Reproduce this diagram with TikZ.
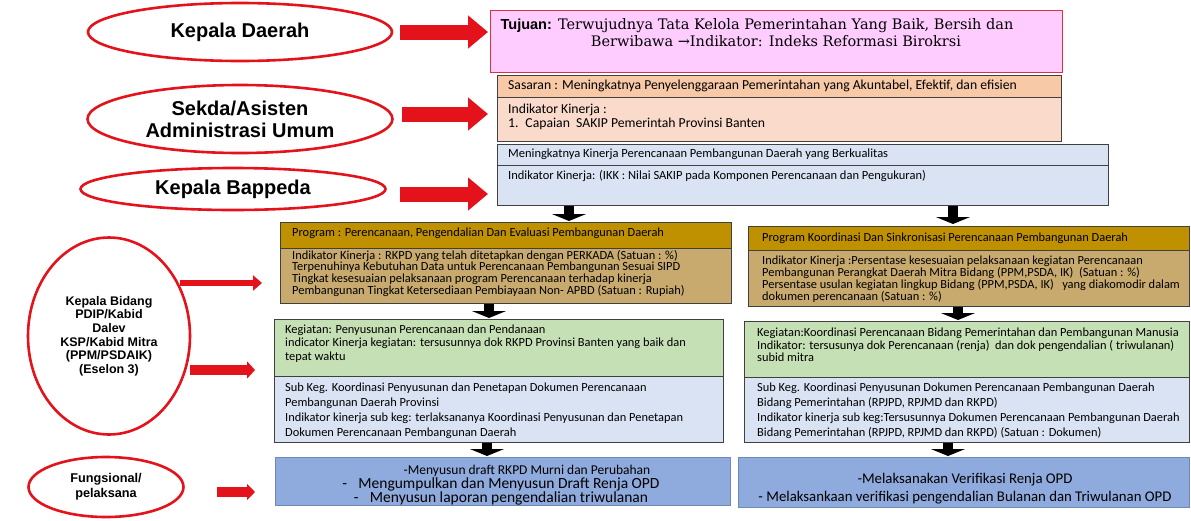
\documentclass[tikz,border=0pt]{standalone}
\usepackage{fontspec}
\setmainfont{Carlito}
\newfontfamily\arialf{Liberation Sans}
\newfontfamily\seriff{DejaVu Serif}
\usetikzlibrary{arrows.meta,shapes.geometric}
\definecolor{ellred}{HTML}{E3121B}
\definecolor{tujfill}{HTML}{FFCCFF}
\definecolor{tujline}{HTML}{E0303A}
\definecolor{sashead}{HTML}{F7C9A6}
\definecolor{saslow}{HTML}{FADACB}
\definecolor{bluelt}{HTML}{DAE3F3}
\definecolor{proghead}{HTML}{BF9000}
\definecolor{proglow}{HTML}{C8AA6E}
\definecolor{keggreen}{HTML}{C5E0B4}
\definecolor{botblue}{HTML}{8FAADC}
\definecolor{botline}{HTML}{7088B8}
\definecolor{boxline}{HTML}{404040}
\begin{document}
\begin{tikzpicture}[x=1pt,y=-1pt,
  pane/.style={draw=boxline, line width=1.3pt, anchor=north west, inner sep=0pt},
  oval/.style={ellipse, draw=ellred, line width=2.6pt, inner sep=0pt, align=center, font=\arialf\bfseries},
  txt/.style={anchor=west, inner sep=0pt, align=left},
  redarr/.style={draw=ellred, line width=15pt, -{Triangle[length=20pt,width=32pt]}},
  blkarr/.style={draw=black, line width=10pt, -{Triangle[length=7pt,width=34pt]}}
]
\useasboundingbox (0,0) rectangle (1191,520);

% ---------- ellipses ----------
\node[oval, minimum width=304pt, minimum height=58pt, font=\arialf\bfseries\fontsize{20}{22}\selectfont] (kd) at (240,32) {Kepala Daerah};
\node[oval, minimum width=305pt, minimum height=68pt, font=\arialf\bfseries\fontsize{20}{22}\selectfont] (sek) at (240,119) {Sekda/Asisten\\Administrasi Umum};
\node[oval, minimum width=305pt, minimum height=42pt, font=\arialf\bfseries\fontsize{20}{22}\selectfont] (kb) at (233,189) {Kepala Bappeda};
\node[oval, minimum width=162pt, minimum height=197pt, font=\arialf\bfseries\fontsize{12.5}{13.6}\selectfont] (kbid) at (109,336) {Kepala Bidang\\PDIP/Kabid\\Dalev\\KSP/Kabid Mitra\\(PPM/PSDAIK)\\(Eselon 3)};
\node[oval, minimum width=155pt, minimum height=60pt, font=\arialf\bfseries\fontsize{12.7}{15}\selectfont] (fung) at (106,487) {Fungsional/\\pelaksana};

% ---------- top boxes ----------
\node[pane, draw=tujline, fill=tujfill, minimum width=572pt, minimum height=62pt] (tuj) at (490,10) {};
\node[inner sep=0pt, align=center, font=\seriff\fontsize{14.5}{17}\selectfont] (tujt) at (776,32.5)
  {{\arialf\bfseries Tujuan:} Terwujudnya Tata Kelola Pemerintahan Yang Baik, Bersih dan\hspace*{38pt}\\Berwibawa →Indikator: Indeks Reformasi Birokrsi};

\node[pane, fill=sashead, minimum width=564pt, minimum height=22pt] (sas) at (497,75) {};
\node[pane, fill=saslow, minimum width=564pt, minimum height=44pt] (sasi) at (497,97) {};
\node[txt, font=\fontsize{13.7}{14}\selectfont] (sast) at (508,86) {Sasaran : Meningkatnya Penyelenggaraan Pemerintahan yang Akuntabel, Efektif, dan efisien};
\node[txt, font=\fontsize{13.7}{14}\selectfont] (sasit) at (508,117) {Indikator Kinerja :\\1.\enspace Capaian\ \ SAKIP Pemerintah Provinsi Banten};

\node[pane, fill=bluelt, minimum width=611pt, minimum height=21pt] (bap) at (497,144) {};
\node[pane, fill=bluelt, minimum width=611pt, minimum height=40pt] (bapi) at (497,165) {};
\node[txt, font=\fontsize{12.5}{14}\selectfont] (bapt) at (508,154) {Meningkatnya Kinerja Perencanaan Pembangunan Daerah yang Berkualitas};
\node[txt, font=\fontsize{12.5}{14}\selectfont] (bapit) at (508,176) {Indikator Kinerja: (IKK : Nilai SAKIP pada Komponen Perencanaan dan Pengukuran)};

% ---------- program boxes ----------
\node[pane, fill=proghead, minimum width=451pt, minimum height=26pt] (pl) at (280,222) {};
\node[pane, fill=proglow, minimum width=451pt, minimum height=55pt] (pli) at (280,248) {};
\node[txt, font=\fontsize{12.4}{14}\selectfont] (plt) at (292,233) {Program : Perencanaan, Pengendalian Dan Evaluasi Pembangunan Daerah};
\node[txt, font=\fontsize{12.4}{10.4}\selectfont] (plit) at (292,273.5) {Indikator Kinerja : RKPD yang telah ditetapkan dengan PERKADA (Satuan : \%)\\Terpenuhinya Kebutuhan Data untuk Perencanaan Pembangunan Sesuai SIPD\\Tingkat kesesuaian pelaksanaan program Perencanaan terhadap kinerja\\Pembangunan Tingkat Ketersediaan Pembiayaan Non- APBD (Satuan : Rupiah)};

\node[pane, fill=proghead, minimum width=441pt, minimum height=24pt] (pr) at (748,226) {};
\node[pane, fill=proglow, minimum width=441pt, minimum height=56pt] (pri) at (748,250) {};
\node[txt, font=\fontsize{12.4}{14}\selectfont] (prt) at (762,238) {Program Koordinasi Dan Sinkronisasi Perencanaan Pembangunan Daerah};
\node[txt, font=\fontsize{12.4}{10.7}\selectfont] (prit) at (762,279) {Indikator Kinerja :Persentase kesesuaian pelaksanaan kegiatan Perencanaan\\Pembangunan Perangkat Daerah Mitra Bidang (PPM,PSDA, IK)\ \ (Satuan : \%)\\Persentase usulan kegiatan lingkup Bidang (PPM,PSDA, IK)\ \ \ yang diakomodir dalam\\dokumen perencanaan (Satuan : \%)};

% ---------- kegiatan boxes ----------
\node[pane, fill=keggreen, minimum width=449pt, minimum height=57pt] (kl) at (274,319) {};
\node[pane, fill=bluelt, minimum width=449pt, minimum height=66pt] (skl) at (274,376) {};
\node[txt, font=\fontsize{12.4}{13.5}\selectfont] (klt) at (285,343.5) {Kegiatan: Penyusunan Perencanaan dan Pendanaan\\indicator Kinerja kegiatan: tersusunnya dok RKPD Provinsi Banten yang baik dan\\tepat waktu};
\node[txt, font=\fontsize{12.4}{15}\selectfont] (sklt) at (285,410.5) {Sub Keg. Koordinasi Penyusunan dan Penetapan Dokumen Perencanaan\\Pembangunan Daerah Provinsi\\Indikator kinerja sub keg: terlaksananya Koordinasi Penyusunan dan Penetapan\\Dokumen Perencanaan Pembangunan Daerah};

\node[pane, fill=keggreen, minimum width=445pt, minimum height=56pt] (kr) at (744,321) {};
\node[pane, fill=bluelt, minimum width=445pt, minimum height=65pt] (skr) at (744,377) {};
\node[txt, font=\fontsize{12.4}{12.3}\selectfont] (krt) at (757,345) {Kegiatan:Koordinasi Perencanaan Bidang Pemerintahan dan Pembangunan Manusia\\Indikator: tersusunya dok Perencanaan (renja)\ \ dan dok pengendalian ( triwulanan)\\subid mitra};
\node[txt, font=\fontsize{12.4}{15}\selectfont] (skrt) at (757,410.5) {Sub Keg. Koordinasi Penyusunan Dokumen Perencanaan Pembangunan Daerah\\Bidang Pemerintahan (RPJPD, RPJMD dan RKPD)\\Indikator kinerja sub keg:Tersusunnya Dokumen Perencanaan Pembangunan Daerah\\Bidang Pemerintahan (RPJPD, RPJMD dan RKPD) (Satuan : Dokumen)};

% ---------- bottom boxes ----------
\node[pane, draw=botline, fill=botblue, minimum width=455pt, minimum height=48pt] (bl) at (275,457) {};
\node[pane, draw=botline, fill=botblue, minimum width=451pt, minimum height=50pt] (br) at (738,457) {};
\node[inner sep=0pt, align=center, font=\fontsize{15.5}{13.4}\selectfont] (blt) at (501,485.5) {\hspace*{52pt}{\fontsize{13.5}{13.4}\selectfont -Menyusun draft RKPD Murni dan Perubahan}\\-\enspace\ Mengumpulkan dan Menyusun Draft Renja OPD\\-\enspace\ Menyusun laporan pengendalian triwulanan};
\node[inner sep=0pt, align=center, font=\fontsize{14.8}{18}\selectfont] (brt) at (965,489) {-Melaksanakan Verifikasi Renja OPD\\- Melaksankaan verifikasi pengendalian Bulanan dan Triwulanan OPD};

% ---------- red arrows ----------
\coordinate (ra1s) at (400,32);  \coordinate (ra1e) at (488,32);
\coordinate (ra2s) at (402,114); \coordinate (ra2e) at (488,114);
\coordinate (ra3s) at (400,194); \coordinate (ra3e) at (488,194);
\draw[redarr] (ra1s) -- (ra1e);
\draw[redarr] (ra2s) -- (ra2e);
\draw[redarr] (ra3s) -- (ra3e);
\coordinate (rb1s) at (180,283); \coordinate (rb1e) at (262,283);
\coordinate (rb2s) at (190,370); \coordinate (rb2e) at (255,370);
\coordinate (rb3s) at (217,492); \coordinate (rb3e) at (255,492);
\draw[draw=ellred, line width=6pt, -{Triangle[length=9pt,width=15pt]}] (rb1s) -- (rb1e);
\draw[draw=ellred, line width=10pt, -{Triangle[length=8pt,width=17pt]}] (rb2s) -- (rb2e);
\draw[draw=ellred, line width=10pt, -{Triangle[length=8pt,width=16pt]}] (rb3s) -- (rb3e);

% ---------- black arrows ----------
\coordinate (ba1e) at (569,221); \coordinate (ba2e) at (953,224);
\coordinate (ba3e) at (489,318); \coordinate (ba4e) at (958,320);
\coordinate (ba5e) at (487,456); \coordinate (ba6e) at (948,456);
\draw[blkarr] (bapi.south -| ba1e) -- (ba1e);
\draw[blkarr] (bapi.south -| ba2e) -- (ba2e);
\draw[blkarr] (pli.south -| ba3e) -- (ba3e);
\draw[blkarr] (pri.south -| ba4e) -- (ba4e);
\draw[blkarr] (skl.south -| ba5e) -- (ba5e);
\draw[blkarr] (skr.south -| ba6e) -- (ba6e);
\end{tikzpicture}
\end{document}
